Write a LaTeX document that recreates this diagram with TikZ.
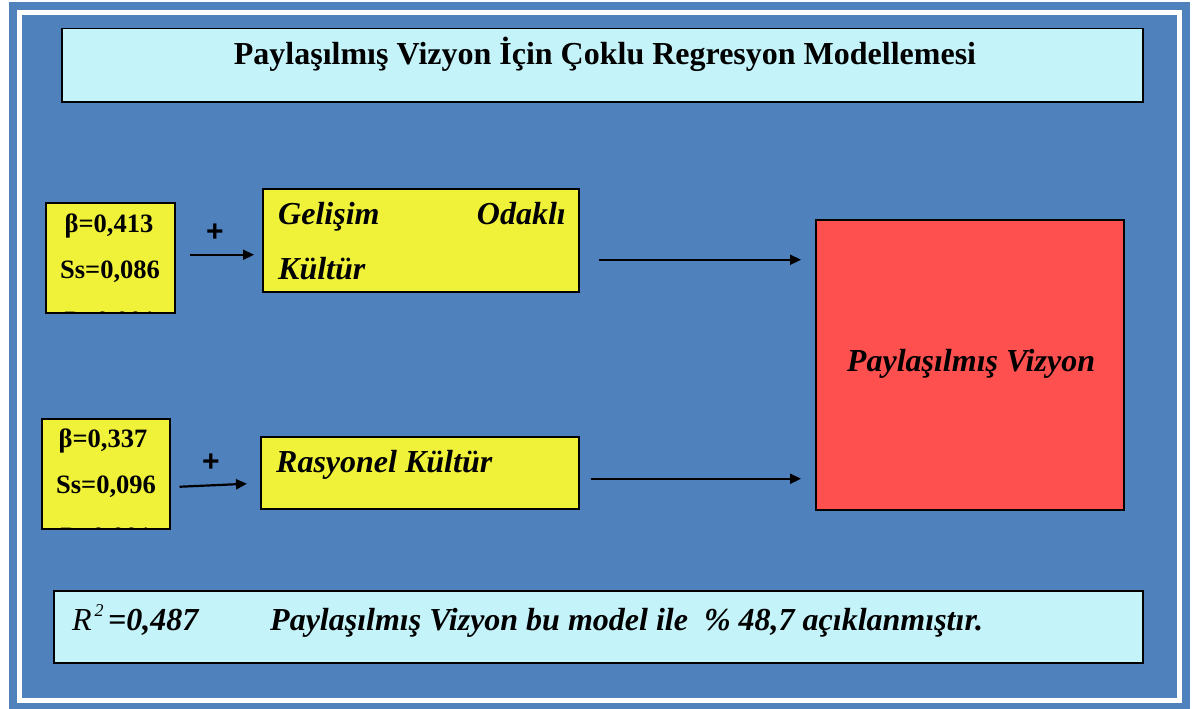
\documentclass[tikz,border=0pt]{standalone}
\usepackage{fontspec}
\setmainfont{Liberation Serif}
\newfontfamily\plusfont{Liberation Sans}
\usetikzlibrary{arrows.meta,shadows}

\definecolor{bgblue}{RGB}{79,129,189}
\definecolor{panelcyan}{RGB}{196,243,250}
\definecolor{boxyellow}{RGB}{240,242,58}
\definecolor{boxred}{RGB}{255,80,80}
\definecolor{shade}{RGB}{25,35,60}

\begin{document}
\begin{tikzpicture}[x=1pt,y=-1pt,
  box/.style={draw=black,line width=1.5pt,inner sep=0pt,anchor=north west},
  shadowed/.style={drop shadow={shadow xshift=1.5pt,shadow yshift=-1.5pt,opacity=0.8,fill=shade}},
  cyanbox/.style={box,fill=panelcyan,shadowed},
  yellowbox/.style={box,fill=boxyellow},
  redbox/.style={box,fill=boxred,shadowed},
  txt/.style={inner sep=0pt,anchor=base},
  numtxt/.style={txt,font=\fontsize{26.5}{30}\selectfont\bfseries},
  lbltxt/.style={txt,anchor=base west,font=\fontsize{32}{36}\selectfont\bfseries\itshape},
  plus/.style={inner sep=0pt,font=\plusfont\fontsize{30}{30}\selectfont\bfseries},
  arr/.style={line width=2.2pt,-{Triangle[length=11pt,width=10pt]}}]

\useasboundingbox (0,0) rectangle (1202,709);
\fill[white] (0,0) rectangle (1202,709);
\fill[bgblue] (9,2) rectangle (1190,709);
\draw[white,line width=5pt] (19.5,12.5) rectangle (1179.5,700.5);

% title panel
\node[cyanbox,minimum width=1081pt,minimum height=73pt] (title) at (61,28) {};
\node[txt,font=\fontsize{32}{36}\selectfont\bfseries] (titletext) at (605,65)
  {Paylaşılmış Vizyon İçin Çoklu Regresyon Modellemesi};

% coefficient boxes
\node[yellowbox,minimum width=129pt,minimum height=110pt] (coefA) at (45,202) {};
\node[yellowbox,minimum width=128pt,minimum height=110pt] (coefB) at (41,418) {};

\node[numtxt] (betaA) at (109,232) {β=0,413};
\node[numtxt] (ssA) at (110,278) {Ss=0,086};
\node[numtxt] (betaB) at (103,447) {β=0,337};
\node[numtxt] (ssB) at (106,493) {Ss=0,096};
% third line runs past the box bottom and is cut off by it
\begin{scope}
  \clip ([shift={(1pt,-1pt)}]coefA.north west) rectangle ([shift={(-1pt,1pt)}]coefA.south east);
  \node[numtxt] (pA) at (110,329) {P<0,001};
\end{scope}
\begin{scope}
  \clip ([shift={(1pt,-1pt)}]coefB.north west) rectangle ([shift={(-1pt,1pt)}]coefB.south east);
  \node[numtxt] (pB) at (106,545) {P<0,001};
\end{scope}

% culture boxes
\node[yellowbox,minimum width=316pt,minimum height=103pt] (dev) at (262,188) {};
\node[lbltxt] (devA) at (278,224) {Gelişim};
\node[lbltxt,anchor=base east] (devB) at (566,224) {Odaklı};
\node[lbltxt] (devC) at (278,279) {Kültür};

\node[yellowbox,minimum width=318pt,minimum height=72pt] (rat) at (260,436) {};
\node[lbltxt] (ratA) at (276,472) {Rasyonel Kültür};

% outcome box
\node[redbox,minimum width=308pt,minimum height=290pt] (vision) at (815,219) {};
\node[txt,font=\fontsize{32}{36}\selectfont\bfseries\itshape] (visionA) at (971,371) {Paylaşılmış Vizyon};

% plus signs
\node[plus] (plusA) at (215,233) {+};
\node[plus] (plusB) at (211,463) {+};

% arrows (shifts are in page points: negative y moves down)
\draw[arr] ([shift={(14pt,3pt)}]coefA.east) -- ([shift={(-8pt,-14.5pt)}]dev.west);
\draw[arr] ([shift={(9pt,-13pt)}]coefB.east) -- ([shift={(-13pt,-11pt)}]rat.west);
\draw[arr] ([shift={(19pt,-19.5pt)}]dev.east) -- ([shift={(-14pt,-19.5pt)}]dev.east -| vision.west);
\draw[arr] ([shift={(11pt,-6pt)}]rat.east) -- ([shift={(-14pt,-6pt)}]rat.east -| vision.west);

% summary panel
\node[cyanbox,minimum width=1089pt,minimum height=72pt] (summary) at (53,590) {};
\node[txt,anchor=base west,font=\fontsize{32}{36}\selectfont\itshape] (rsq) at (72,630)
  {R\hspace{3pt}\raisebox{14pt}{\fontsize{18}{18}\selectfont 2}};
\node[txt,anchor=base west,font=\fontsize{32}{36}\selectfont\bfseries\itshape] (rsqval) at (108,630) {=0,487};
\node[txt,anchor=base west,font=\fontsize{32}{36}\selectfont\bfseries\itshape] (summarytext) at (270,630)
  {Paylaşılmış Vizyon bu model ile\ \ \% 48,7 açıklanmıştır.};
\end{tikzpicture}
\end{document}
